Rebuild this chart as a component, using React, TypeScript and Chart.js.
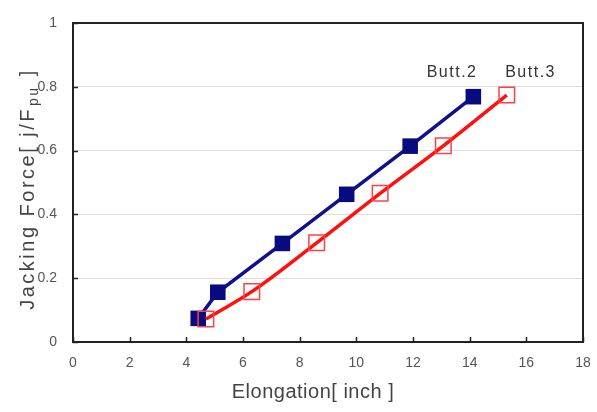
import React, { useEffect, useRef } from "react";
import { Chart, registerables } from "chart.js";

Chart.register(...registerables);

const butt2X = [4.42, 5.11, 7.39, 9.66, 11.9, 14.13];
const butt2Y = [0.074, 0.156, 0.309, 0.463, 0.614, 0.769];
const butt3X = [4.69, 6.31, 8.6, 10.84, 13.07, 15.31];
const butt3Y = [0.072, 0.158, 0.311, 0.466, 0.615, 0.774];
const seriesNames = ["Butt.2", "Butt.3"];
const labelX = [13.38, 16.15];
const labelY = [0.843, 0.843];
const xTicks = [0, 2, 4, 6, 8, 10, 12, 14, 16, 18];
const yTicks = [0, 0.2, 0.4, 0.6, 0.8, 1];

const FONT = "'Liberation Sans', Arial, sans-serif";

const decor = {
  id: "decor",
  beforeDatasetsDraw(chart: any) {
    const { ctx, chartArea: a } = chart;
    ctx.save();
    ctx.strokeStyle = "#222";
    ctx.lineWidth = 2;
    ctx.strokeRect(a.left, a.top, a.right - a.left, a.bottom - a.top);
    ctx.lineWidth = 1.5;
    const xs = chart.scales.x;
    xTicks.forEach((v) => {
      const px = Math.round(xs.getPixelForValue(v)) + 0.5;
      ctx.beginPath();
      ctx.moveTo(px, a.bottom);
      ctx.lineTo(px, a.bottom - 5);
      ctx.stroke();
    });
    const ys = chart.scales.y;
    yTicks.forEach((v) => {
      const py = Math.round(ys.getPixelForValue(v)) + 0.5;
      ctx.beginPath();
      ctx.moveTo(a.left, py);
      ctx.lineTo(a.left + 5, py);
      ctx.stroke();
    });
    ctx.restore();
  },
  afterDraw(chart: any) {
    const { ctx } = chart;
    const xs = chart.scales.x;
    const ys = chart.scales.y;
    ctx.save();
    ctx.fillStyle = "#333";
    ctx.textAlign = "center";
    ctx.textBaseline = "middle";
    ctx.font = `16px ${FONT}`;
    (ctx as any).letterSpacing = "1.5px";
    seriesNames.forEach((n, i) => {
      ctx.fillText(n, xs.getPixelForValue(labelX[i]), ys.getPixelForValue(labelY[i]));
    });
    ctx.font = `20px ${FONT}`;
    (ctx as any).letterSpacing = "0.5px";
    ctx.fillStyle = "#444";
    ctx.fillText("Elongation[ inch ]", 313, 392);
    ctx.translate(28, 189);
    ctx.rotate(-Math.PI / 2);
    const main = "Jacking Force[ j/F";
    const sub = "pu";
    const end = " ]";
    (ctx as any).letterSpacing = "2.5px";
    ctx.font = `20px ${FONT}`;
    const wMain = ctx.measureText(main).width;
    const wEnd = ctx.measureText(end).width;
    ctx.font = `14px ${FONT}`;
    const wSub = ctx.measureText(sub).width;
    const total = wMain + wSub + wEnd + 2;
    let x0 = -total / 2;
    ctx.textAlign = "left";
    ctx.font = `20px ${FONT}`;
    ctx.fillText(main, x0, 0);
    x0 += wMain + 1;
    ctx.font = `14px ${FONT}`;
    ctx.fillText(sub, x0, 6);
    x0 += wSub + 1;
    ctx.font = `20px ${FONT}`;
    ctx.fillText(end, x0, 0);
    ctx.restore();
  },
};

export default function App() {
  const ref = useRef<HTMLCanvasElement>(null);
  useEffect(() => {
    document.body.style.margin = "0";
    const chart = new Chart(ref.current!, {
      type: "line",
      data: {
        datasets: [
          {
            label: seriesNames[1],
            data: butt3X.map((x, i) => ({ x, y: butt3Y[i] })),
            borderColor: "#ff1010",
            borderWidth: 3.5,
            cubicInterpolationMode: "monotone",
            pointStyle: "rect",
            pointRadius: 11,
            pointBorderWidth: 1.5,
            pointBorderColor: "#ff4040",
            pointBackgroundColor: "rgba(255,255,255,0)",
            order: 0,
          },
          {
            label: seriesNames[0],
            data: butt2X.map((x, i) => ({ x, y: butt2Y[i] })),
            borderColor: "#10108a",
            borderWidth: 3.5,
            tension: 0,
            pointStyle: "rect",
            pointRadius: 11,
            pointBorderWidth: 0,
            pointBackgroundColor: "#0a0a80",
            order: 1,
          },
        ],
      },
      options: {
        animation: false,
        responsive: false,
        layout: { padding: { left: 0, right: 14, top: 23, bottom: 0 } },
        plugins: { legend: { display: false }, tooltip: { enabled: false } },
        scales: {
          x: {
            type: "linear",
            min: 0,
            max: 18,
            afterFit: (s: any) => { s.height = 70; s.paddingLeft = 0; s.paddingRight = 0; },
            afterBuildTicks: (s: any) => { s.ticks = xTicks.map((v) => ({ value: v })); },
            grid: { display: false, drawTicks: false },
            border: { display: false },
            ticks: { padding: 13, color: "#555", font: { size: 14, family: FONT }, maxRotation: 0 },
          },
          y: {
            type: "linear",
            min: 0,
            max: 1,
            afterFit: (s: any) => { s.width = 73; s.paddingTop = 0; s.paddingBottom = 0; },
            afterBuildTicks: (s: any) => { s.ticks = yTicks.map((v) => ({ value: v })); },
            grid: { color: "#dddddd", lineWidth: 1, drawTicks: false },
            border: { display: false },
            ticks: { padding: 16, color: "#555", font: { size: 14, family: FONT }, callback: (v: any) => String(v) },
          },
        },
      },
      plugins: [decor],
    } as any);
    return () => chart.destroy();
  }, []);
  return (
    <div style={{ width: 597, height: 412 }}>
      <canvas ref={ref} width={597} height={412} style={{ display: "block" }} />
    </div>
  );
}
